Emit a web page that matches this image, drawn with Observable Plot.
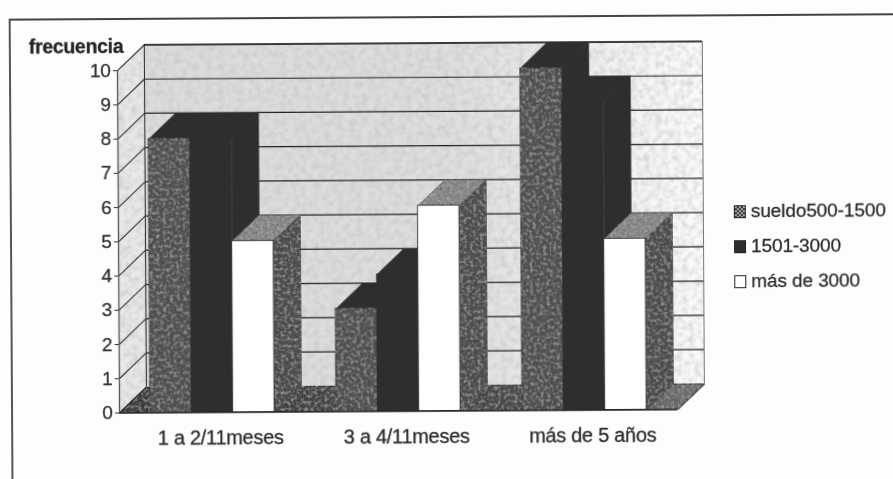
<!DOCTYPE html>
<html lang="es">
<head>
<meta charset="utf-8">
<script src="https://cdn.jsdelivr.net/npm/d3@7"></script>
<script src="https://cdn.jsdelivr.net/npm/@observablehq/plot@0.6"></script>
<style>
html,body{margin:0;padding:0;background:#fdfdfd;overflow:hidden;width:893px;height:479px}
#page{position:relative;width:893px;height:479px;transform:rotate(-0.35deg);transform-origin:446px 239px;filter:blur(.5px)}
#frame{position:absolute;left:10px;top:16px;width:1000px;height:600px;border-left:2px solid #555;border-top:2px solid #444}
#chart{position:absolute;left:0;top:0}
#chart svg{background:transparent;font-family:"Liberation Sans",Arial,sans-serif}
#chart svg text{stroke:#333;stroke-width:.3px}
#legend{position:absolute;left:734px;top:0;font:19px "Liberation Sans",Arial,sans-serif;color:#2c2c2c;letter-spacing:-.1px;-webkit-text-stroke:.3px #333}
#legend div{position:absolute;left:0;white-space:nowrap;line-height:20px;height:20px;padding-left:17px}
#legend i{position:absolute;left:0;top:4px;width:10px;height:11px;border:1px solid #222;box-sizing:content-box}
</style>
</head>
<body>
<svg width="0" height="0" style="position:absolute">
  <defs>
    <linearGradient id="wall" x1="0" x2="1" y1="0" y2="0">
      <stop offset="0" stop-color="#dcdcdc"/><stop offset=".55" stop-color="#dedede"/><stop offset=".8" stop-color="#eeeeee"/><stop offset="1" stop-color="#fbfbfb"/>
    </linearGradient>
    <linearGradient id="floor" x1="0" x2="1" y1="0" y2="0">
      <stop offset="0" stop-color="#383838"/><stop offset=".8" stop-color="#484848"/><stop offset="1" stop-color="#777"/>
    </linearGradient>
    <filter id="mottle" x="0" y="0" width="100%" height="100%">
      <feTurbulence type="fractalNoise" baseFrequency="0.16" numOctaves="3" seed="4" result="n"/>
      <feColorMatrix in="n" type="matrix" values="0 0 0 0 .55  0 0 0 0 .55  0 0 0 0 .55  1.3 0 0 0 -.46" result="a0"/>
      <feGaussianBlur in="a0" stdDeviation=".7" result="a"/>
      <feComposite in="a" in2="SourceGraphic" operator="in" result="b"/>
      <feMerge><feMergeNode in="SourceGraphic"/><feMergeNode in="b"/></feMerge>
    </filter>
    <filter id="grain" x="0" y="0" width="100%" height="100%">
      <feTurbulence type="fractalNoise" baseFrequency="0.4" numOctaves="2" seed="9" result="n"/>
      <feColorMatrix in="n" type="matrix" values="0 0 0 0 .12  0 0 0 0 .12  0 0 0 0 .12  1.6 0 0 0 -.62" result="a0"/>
      <feGaussianBlur in="a0" stdDeviation=".5" result="a"/>
      <feComposite in="a" in2="SourceGraphic" operator="in" result="b"/>
      <feTurbulence type="fractalNoise" baseFrequency="0.3" numOctaves="2" seed="23" result="m"/>
      <feColorMatrix in="m" type="matrix" values="0 0 0 0 .5  0 0 0 0 .5  0 0 0 0 .5  1.4 0 0 0 -.66" result="c0"/>
      <feGaussianBlur in="c0" stdDeviation=".5" result="c"/>
      <feComposite in="c" in2="SourceGraphic" operator="in" result="d"/>
      <feMerge><feMergeNode in="SourceGraphic"/><feMergeNode in="b"/><feMergeNode in="d"/></feMerge>
    </filter>
  </defs>
</svg>
<div id="page">
  <div id="frame"></div>
  <div id="chart"></div>
  <div id="legend"></div>
</div>
<script>
const categories = ["1 a 2/11meses", "3 a 4/11meses", "más de 5 años"];
const sueldo500_1500 = [8, 3, 10];
const sueldo1501_3000 = [8, 4, 9];
const masDe3000 = [5, 6, 5];
const seriesNames = ["sueldo500-1500", "1501-3000", "más de 3000"];
const yTicks = [0, 1, 2, 3, 4, 5, 6, 7, 8, 9, 10];
const yLabel = "frecuencia";

const series = [sueldo500_1500, sueldo1501_3000, masDe3000];
// depth of the pseudo-3D box, in scale units
const dx = 0.145, dy = 0.75, barW = 0.2225;
const ink = "#222";
const black = "#2e2e2e";

const poly = (pts, o) => Plot.line([...pts, pts[0]], {x: d => d[0], y: d => d[1], curve: "linear", ...o});

const styles = [
  {front: "#4e4e4e", frontF: "url(#grain)", top: black, side: black},
  {front: black, top: black, side: black},
  {front: "#ffffff", top: "#8c8c8c", topF: "url(#grain)", side: "#4a4a4a", sideF: "url(#grain)"}
];

const marks = [];
// side wall, back wall, floor
marks.push(poly([[0, 0], [dx, dy], [dx, 10 + dy], [0, 10]], {fill: "#e8e8e8", imageFilter: "url(#mottle)"}));
marks.push(poly([[dx, dy], [3 + dx, dy], [3 + dx, 10 + dy], [dx, 10 + dy]], {fill: "url(#wall)", imageFilter: "url(#mottle)"}));
marks.push(poly([[0, 0], [dx, dy], [3 + dx, dy], [3, 0]], {fill: "url(#floor)", stroke: "#333", imageFilter: "url(#grain)"}));
// grid lines
marks.push(Plot.ruleY(yTicks.slice(1), {y: d => d + dy, x1: dx, x2: 3 + dx, stroke: ink, strokeWidth: 1.2}));
marks.push(Plot.link(yTicks, {x1: 0, y1: d => d, x2: dx, y2: d => d + dy, stroke: "#333", strokeWidth: 1.1}));
marks.push(Plot.ruleX([dx], {y1: dy, y2: 10 + dy, stroke: "#333", strokeWidth: 1.1}));
marks.push(Plot.ruleX([3 + dx], {y1: dy, y2: 10 + dy, stroke: "#777", strokeWidth: 1}));
marks.push(Plot.ruleY([10 + dy], {x1: dx, x2: 3 + dx, stroke: ink, strokeWidth: 1.3}));

// bars: painted group by group, left to right
categories.forEach((c, g) => {
  series.forEach((values, s) => {
    const v = values[g], st = styles[s];
    const x1 = g + 0.5 + (s - 1.5) * barW, x2 = x1 + barW;
    marks.push(poly([[x1, v], [x2, v], [x2 + dx, v + dy], [x1 + dx, v + dy]],
      {fill: st.top, stroke: st.top === black ? black : "#555", strokeWidth: .8, imageFilter: st.topF}));
    marks.push(poly([[x2, 0], [x2 + dx, dy], [x2 + dx, v + dy], [x2, v]],
      {fill: st.side, stroke: st.side, strokeWidth: .8, imageFilter: st.sideF}));
    marks.push(Plot.rect([{x1, x2, v}], {x1: "x1", x2: "x2", y1: 0, y2: "v",
      fill: st.front, stroke: s === 1 ? black : "#333", strokeWidth: .9, imageFilter: st.frontF}));
  });
});

// front axis lines
marks.push(Plot.ruleY([0], {x1: 0, x2: 3, stroke: "#222", strokeWidth: 1.6}));
marks.push(Plot.ruleX([0], {y1: 0, y2: 10, stroke: "#555", strokeWidth: 1.3}));
marks.push(Plot.link([0], {x1: 3, y1: 0, x2: 3 + dx, y2: dy, stroke: "#555", strokeWidth: 1}));

// axes
marks.push(Plot.axisY({ticks: yTicks, tickSize: 4, tickPadding: 3, fontSize: 19, label: null, anchor: "left", color: "#333", stroke: "#333"}));
marks.push(Plot.axisX({ticks: [0.5, 1.5, 2.5], tickSize: 0, tickPadding: 18, fontSize: 20, label: null,
  tickFormat: d => categories[Math.floor(d)], dx: 8, color: "#2c2c2c"}));
marks.push(Plot.text([yLabel], {x: 0, y: 10.7, text: d => d, textAnchor: "end", dx: 6, fontSize: 19.5, fontWeight: "bold", fill: "#222"}));

const chart = Plot.plot({
  width: 893, height: 479,
  marginLeft: 118, marginRight: 190, marginTop: 42, marginBottom: 69,
  x: {domain: [0, 3 + dx], range: [118, 703], axis: null},
  y: {domain: [0, 10 + dy], range: [410.5, 42.5], axis: null},
  marks
});
document.getElementById("chart").appendChild(chart);
chart.querySelectorAll("text").forEach(t => t.style.letterSpacing = "-.3px");

const legend = document.getElementById("legend");
const swatches = ["repeating-conic-gradient(#333 0 25%, #aaa 0 50%) 0 0/4px 4px", black, "#fff"];
seriesNames.forEach((n, i) => {
  const row = document.createElement("div");
  row.style.top = (203 + i * 35) + "px";
  row.textContent = n;
  const sw = document.createElement("i");
  sw.style.background = swatches[i];
  row.appendChild(sw);
  legend.appendChild(row);
});
</script>
</body>
</html>
